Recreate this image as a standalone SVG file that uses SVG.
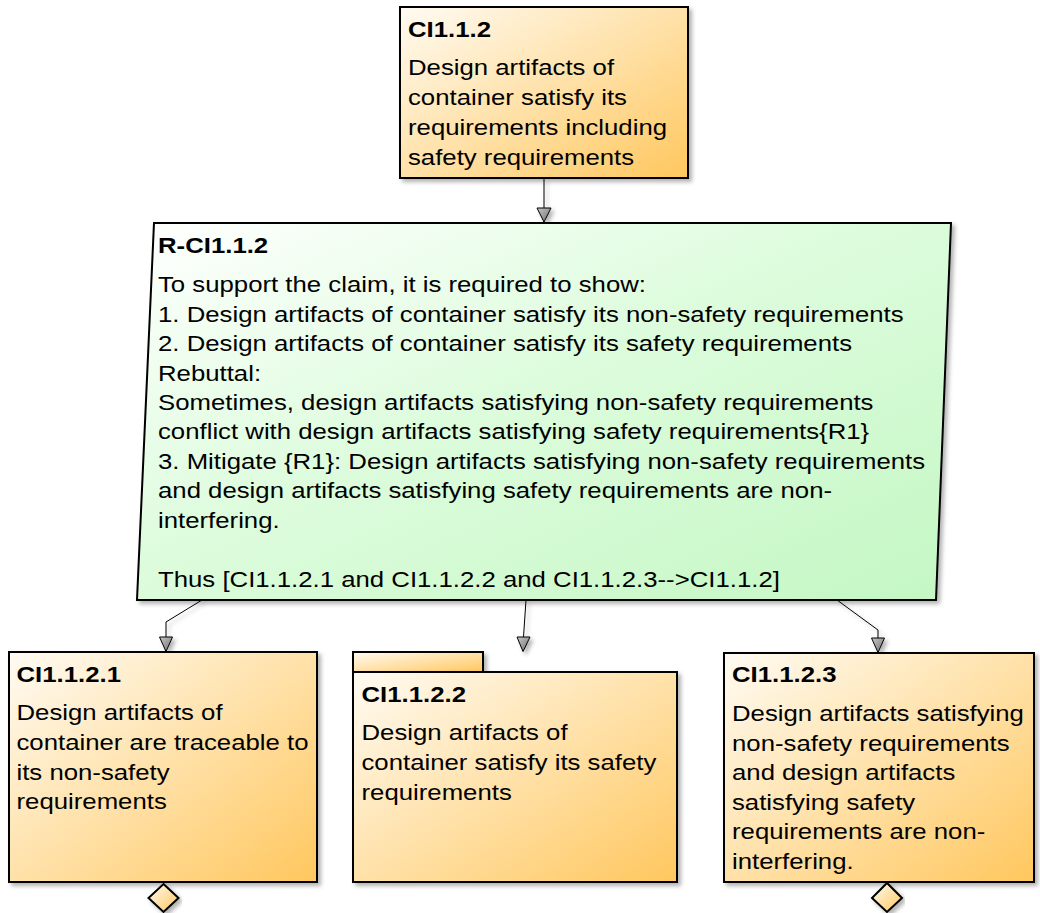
<svg xmlns="http://www.w3.org/2000/svg" width="1040" height="913" viewBox="0 0 1040 913">
  <defs>
    <linearGradient id="gOrange" x1="0" y1="0" x2="1" y2="1">
      <stop offset="0" stop-color="#FFFBF3"/>
      <stop offset="1" stop-color="#FFC75E"/>
    </linearGradient>
    <linearGradient id="gGreen" x1="0" y1="0" x2="1" y2="1">
      <stop offset="0" stop-color="#FFFFFF"/>
      <stop offset="0.45" stop-color="#DDFCDD"/>
      <stop offset="1" stop-color="#C4F7C4"/>
    </linearGradient>
    <linearGradient id="gHead" x1="0" y1="0" x2="1" y2="1">
      <stop offset="0" stop-color="#C8C8C8"/>
      <stop offset="1" stop-color="#6E6E6E"/>
    </linearGradient>
    <filter id="shadow" x="-5%" y="-5%" width="115%" height="115%">
      <feDropShadow dx="3" dy="3" stdDeviation="2" flood-color="#000" flood-opacity="0.3"/>
    </filter>
    <style>
      .box { fill: url(#gOrange); stroke: #000; stroke-width: 2; filter: url(#shadow); }
      .rbox { fill: url(#gGreen); stroke: #000; stroke-width: 2; filter: url(#shadow); }
      .t { font-family: "Liberation Sans", Arial, sans-serif; font-size: 23px; fill: #000; }
      .h { font-family: "Liberation Sans", Arial, sans-serif; font-size: 23px; font-weight: bold; fill: #000; }
      .edge { fill: none; stroke: #000; stroke-width: 1; }
      .head { fill: url(#gHead); stroke: #000; stroke-width: 1; stroke-linejoin: miter; }
    </style>
  </defs>

  <!-- connectors -->
  <g id="connectors" filter="url(#shadow)">
    <path class="edge" d="M544,178 L544,208"/>
    <polygon class="head" points="537,208 551,208 544,222"/>

    <path class="edge" d="M202,600 L166,622 L166,637"/>
    <polygon class="head" points="159.5,637 172.5,637 166,651.5"/>

    <path class="edge" d="M526,600 L523.5,637"/>
    <polygon class="head" points="517,637 530,637 523,651.5"/>

    <path class="edge" d="M837,600 L878,630 L878,638"/>
    <polygon class="head" points="871.5,638 884.5,638 878,652.5"/>
  </g>

  <!-- claim CI1.1.2 -->
  <g id="CI1.1.2">
    <rect class="box" x="400" y="7" width="288" height="171"/>
    <g transform="translate(408 0) scale(1.12 1)">
      <text class="h" x="0" y="36.7">CI1.1.2</text>
      <text class="t" x="0" y="75.3">Design artifacts of</text>
      <text class="t" x="0" y="105.3">container satisfy its</text>
      <text class="t" x="0" y="135.3">requirements including</text>
      <text class="t" x="0" y="165.3">safety requirements</text>
    </g>
  </g>

  <!-- reasoning R-CI1.1.2 -->
  <g id="R-CI1.1.2">
    <polygon class="rbox" points="154,223 951,223 936,600 137,600"/>
    <g transform="translate(158 0) scale(1.12 1)">
      <text class="h" x="0" y="253.5">R-CI1.1.2</text>
      <text class="t" x="0" y="292.3">To support the claim, it is required to show:</text>
      <text class="t" x="0" y="321.7">1. Design artifacts of container satisfy its non-safety requirements</text>
      <text class="t" x="0" y="351.2">2. Design artifacts of container satisfy its safety requirements</text>
      <text class="t" x="0" y="380.6">Rebuttal:</text>
      <text class="t" x="0" y="410.1">Sometimes, design artifacts satisfying non-safety requirements</text>
      <text class="t" x="0" y="439.5">conflict with design artifacts satisfying safety requirements{R1}</text>
      <text class="t" x="0" y="469.0">3. Mitigate {R1}: Design artifacts satisfying non-safety requirements</text>
      <text class="t" x="0" y="498.4">and design artifacts satisfying safety requirements are non-</text>
      <text class="t" x="0" y="527.8">interfering.</text>
      <text class="t" x="0" y="586.7">Thus [CI1.1.2.1 and CI1.1.2.2 and CI1.1.2.3--&gt;CI1.1.2]</text>
    </g>
  </g>

  <!-- claim CI1.1.2.1 -->
  <g id="CI1.1.2.1">
    <rect class="box" x="9" y="652" width="308" height="230"/>
    <polygon class="box" points="163.5,884 178.5,898 163.5,912 148.5,898"/>
    <g transform="translate(16.5 0) scale(1.12 1)">
      <text class="h" x="0" y="681.7">CI1.1.2.1</text>
      <text class="t" x="0" y="720.3">Design artifacts of</text>
      <text class="t" x="0" y="750">container are traceable to</text>
      <text class="t" x="0" y="779.6">its non-safety</text>
      <text class="t" x="0" y="809.2">requirements</text>
    </g>
  </g>

  <!-- claim CI1.1.2.2 (folder shape) -->
  <g id="CI1.1.2.2">
    <rect class="box" x="353" y="652" width="130" height="20"/>
    <rect class="box" x="353" y="672" width="324" height="210"/>
    <g transform="translate(361.5 0) scale(1.12 1)">
      <text class="h" x="0" y="701.7">CI1.1.2.2</text>
      <text class="t" x="0" y="740.3">Design artifacts of</text>
      <text class="t" x="0" y="770">container satisfy its safety</text>
      <text class="t" x="0" y="799.6">requirements</text>
    </g>
  </g>

  <!-- claim CI1.1.2.3 -->
  <g id="CI1.1.2.3">
    <rect class="box" x="724" y="653" width="310" height="229"/>
    <polygon class="box" points="887,883 902,898 887,912 872,898"/>
    <g transform="translate(732 0) scale(1.12 1)">
      <text class="h" x="0" y="682.5">CI1.1.2.3</text>
      <text class="t" x="0" y="721">Design artifacts satisfying</text>
      <text class="t" x="0" y="750.6">non-safety requirements</text>
      <text class="t" x="0" y="780.2">and design artifacts</text>
      <text class="t" x="0" y="809.8">satisfying safety</text>
      <text class="t" x="0" y="839.4">requirements are non-</text>
      <text class="t" x="0" y="869">interfering.</text>
    </g>
  </g>
</svg>
